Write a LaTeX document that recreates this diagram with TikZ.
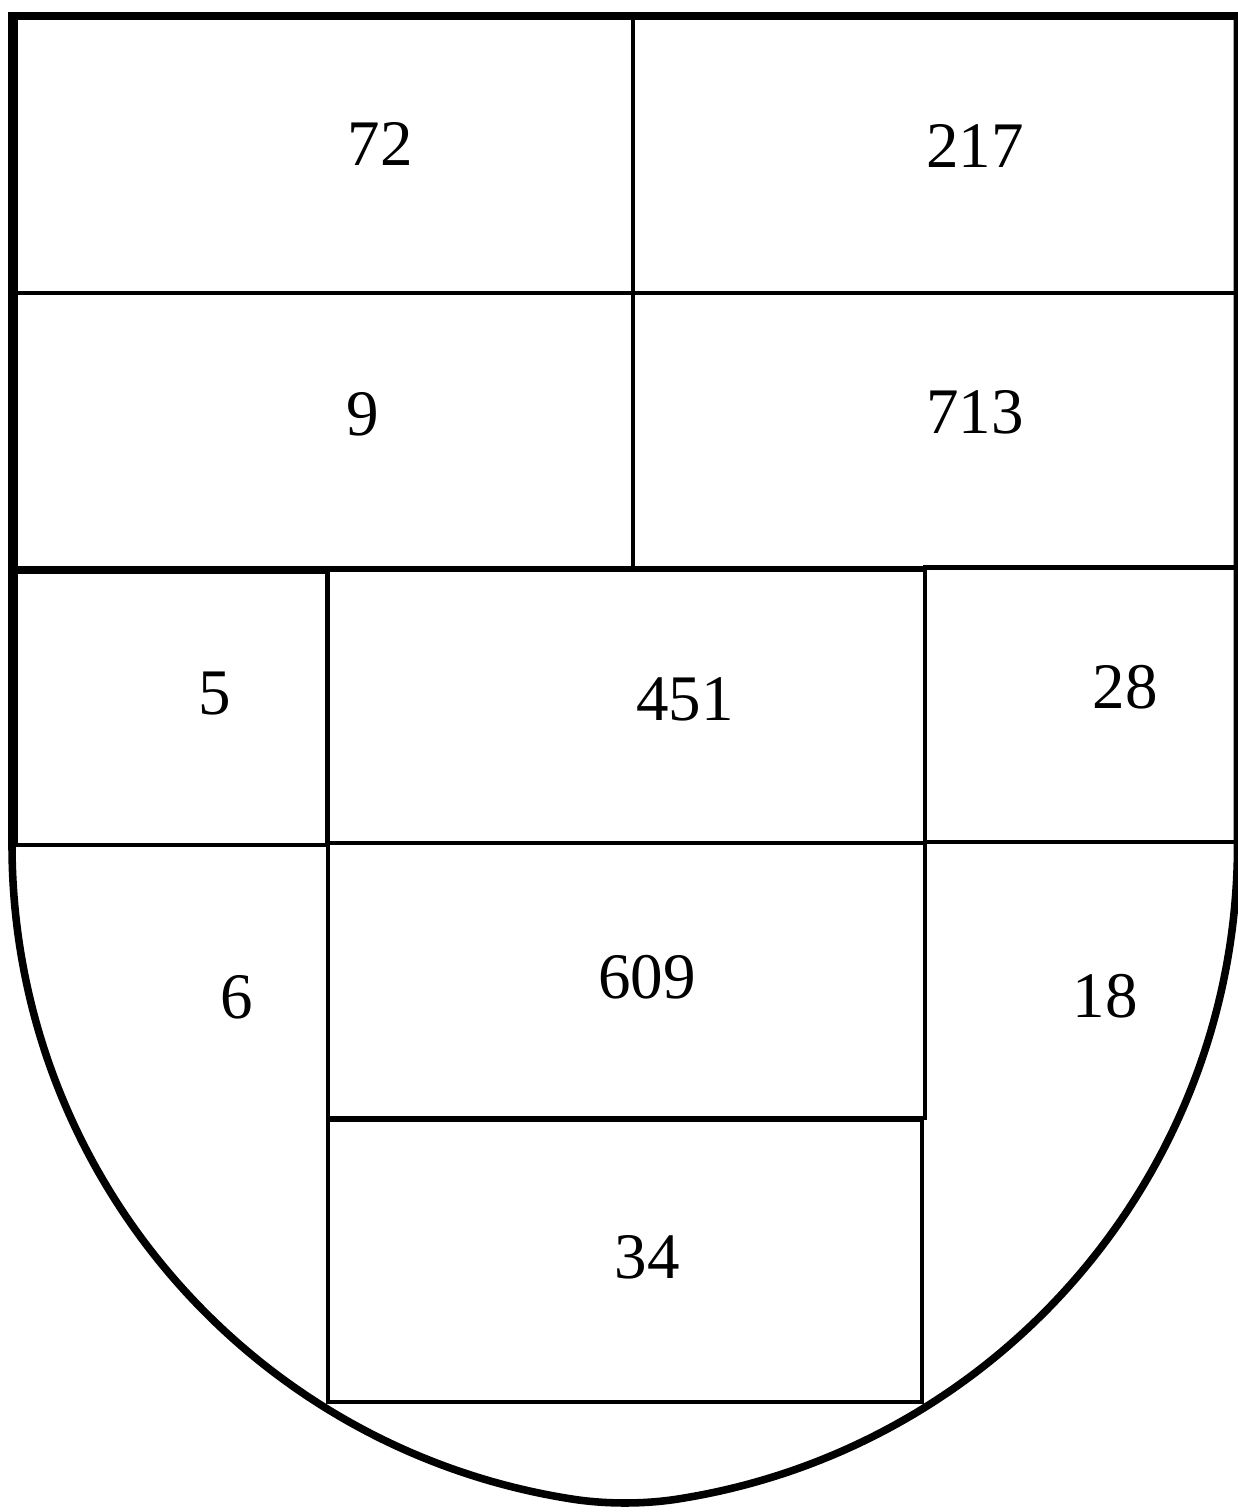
\documentclass[tikz,border=0pt]{standalone}
\usepackage{fontspec}
\setmainfont{Liberation Serif}
\usepackage{tikz}
\definecolor{ink}{HTML}{000000}
\definecolor{paper}{HTML}{FFFFFF}
\tikzset{
  shieldline/.style={
    draw=ink,
    line width=4.3pt,
    line join=miter
  },
  fieldline/.style={
    draw=ink,
    line width=2pt
  },
  fieldlabel/.style={
    text=ink,
    anchor=base,
    inner sep=0pt,
    font=\fontsize{37}{44}\selectfont
  }
}

\begin{document}
\begin{tikzpicture}[x=0.02cm, y=-0.02cm]
  \useasboundingbox[fill=paper] (0,0) rectangle (1238,1512);
  % fields
  \draw[fieldline] (16,18) rectangle (633,293);
  \draw[fieldline] (633,18) rectangle (1236,293);
  \draw[fieldline] (16,293) rectangle (633,568);
  \draw[fieldline] (633,293) rectangle (1236,568);
  \draw[fieldline] (16,572) rectangle (327,845);
  \draw[fieldline] (328,570) rectangle (925,843);
  \draw[fieldline] (925,567) rectangle (1236,842);
  \draw[fieldline] (328,843) rectangle (925,1118);
  \draw[fieldline] (328,1120) rectangle (922,1402);
  % outline of the shield
  \draw[shieldline] (12,845) -- (12,16) -- (1237.5,16) -- (1237.5,845)
    arc[start angle=0, end angle=80.92, radius=662]
    .. controls (645,1504.4) and (605,1504.4) .. (570,1498.7)
    arc[start angle=99.04, end angle=180, radius=662] -- cycle;
  % numbers
  \node[fieldlabel] (n72) at (380,165) {72};
  \node[fieldlabel] (n217) at (975,167) {217};
  \node[fieldlabel] (n9) at (363,435) {9};
  \node[fieldlabel] (n713) at (975,433) {713};
  \node[fieldlabel] (n5) at (215,714) {5};
  \node[fieldlabel] (n451) at (685,720) {451};
  \node[fieldlabel] (n28) at (1125,708) {28};
  \node[fieldlabel] (n6) at (237,1018) {6};
  \node[fieldlabel] (n609) at (647,998) {609};
  \node[fieldlabel] (n18) at (1105,1017) {18};
  \node[fieldlabel] (n34) at (647,1278) {34};
\end{tikzpicture}
\end{document}
